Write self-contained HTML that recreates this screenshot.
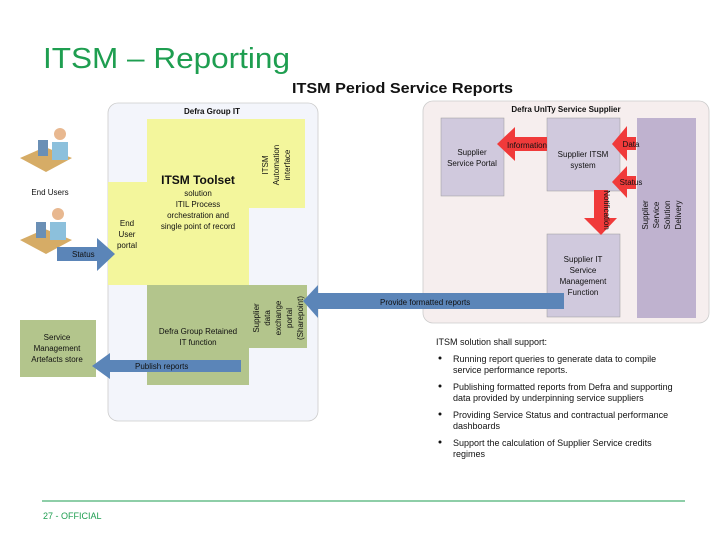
<!DOCTYPE html>
<html><head><meta charset="utf-8"><style>
body{margin:0;background:#fff;}
svg{display:block;font-family:"Liberation Sans",sans-serif;}
</style></head><body>
<svg width="720" height="540" viewBox="0 0 720 540" xmlns="http://www.w3.org/2000/svg">
<text x="43" y="68" font-size="29" fill="#1e9e50" textLength="247" lengthAdjust="spacingAndGlyphs">ITSM – Reporting</text>
<text x="292" y="93" font-size="15" font-weight="bold" fill="#111" textLength="221" lengthAdjust="spacingAndGlyphs">ITSM Period Service Reports</text>

<!-- Defra Group IT container -->
<rect x="108" y="103" width="210" height="318" rx="10" fill="#f3f5fb" stroke="#ccc" stroke-width="0.8"/>
<text x="212" y="114" font-size="8" font-weight="bold" text-anchor="middle" fill="#111">Defra Group IT</text>
<rect x="147" y="119" width="102" height="166" fill="#f3f69c"/>
<rect x="108" y="182" width="39" height="103" fill="#f3f69c"/>
<rect x="249" y="119" width="56" height="89" fill="#f3f69c"/>
<rect x="147" y="285" width="102" height="100" fill="#b3c58c"/>
<rect x="249" y="285" width="58" height="63" fill="#b3c58c"/>
<rect x="20" y="320" width="76" height="57" fill="#b3c58c"/>

<!-- supplier container -->
<rect x="423" y="101" width="286" height="222" rx="10" fill="#f6eeee" stroke="#ccc" stroke-width="0.8"/>
<text x="566" y="112" font-size="8" font-weight="bold" text-anchor="middle" fill="#111">Defra UnITy Service Supplier</text>
<rect x="441" y="118" width="63" height="78" fill="#d0c9dd" stroke="#999" stroke-width="0.5"/>
<rect x="547" y="118" width="73" height="73" fill="#d0c9dd" stroke="#999" stroke-width="0.5"/>
<rect x="547" y="234" width="73" height="83" fill="#d0c9dd" stroke="#999" stroke-width="0.5"/>
<rect x="637" y="118" width="59" height="200" fill="#bfb2cf"/>

<text x="198" y="184" font-size="12" font-weight="bold" text-anchor="middle" fill="#111">ITSM Toolset</text>
<g font-size="8" text-anchor="middle" fill="#111">
<text x="198" y="196">solution</text><text x="198" y="207">ITIL Process</text>
<text x="198" y="218">orchestration and</text><text x="198" y="229">single point of record</text>
<text x="127" y="226">End</text><text x="127" y="237">User</text><text x="127" y="248">portal</text>
<text x="198" y="334">Defra Group Retained</text><text x="198" y="345">IT function</text>
<text transform="translate(268,165) rotate(-90)">ITSM</text>
<text transform="translate(279,165) rotate(-90)">Automation</text>
<text transform="translate(290,165) rotate(-90)">interface</text>
<text transform="translate(259,318) rotate(-90)">Supplier</text>
<text transform="translate(270,318) rotate(-90)">data</text>
<text transform="translate(281,318) rotate(-90)">exchange</text>
<text transform="translate(292,318) rotate(-90)">portal</text>
<text transform="translate(303,318) rotate(-90)">(Sharepoint)</text>
<text x="50" y="195">End Users</text>
<text x="57" y="340">Service</text><text x="57" y="351">Management</text><text x="57" y="362">Artefacts store</text>
</g>
<!-- users -->
<g>
<polygon points="20,158 45,147 72,158 46,172" fill="#d6ac66"/>
<rect x="38" y="140" width="10" height="16" fill="#6a8fb5"/>
<circle cx="60" cy="134" r="6" fill="#e8b890"/>
<path d="M52 142 h16 v18 h-16z" fill="#8cc0dc"/>
<polygon points="20,240 45,229 72,240 46,254" fill="#d6ac66"/>
<rect x="36" y="222" width="10" height="16" fill="#6a8fb5"/>
<circle cx="58" cy="214" r="6" fill="#e8b890"/>
<path d="M50 222 h16 v18 h-16z" fill="#8cc0dc"/>
</g>

<!-- blue arrows -->
<g fill="#5b85b8">
<rect x="57" y="247" width="42" height="14"/><polygon points="97,238 115,254 97,271"/>
<rect x="108" y="360" width="133" height="12"/><polygon points="110,353 92,366 110,379"/>
<rect x="316" y="293" width="248" height="16"/><polygon points="318,285 303,301 318,318"/>
</g>
<g font-size="8" fill="#111">
<text x="72" y="257">Status</text>
<text x="135" y="369">Publish reports</text>
<text x="380" y="305">Provide formatted reports</text>
</g>

<g fill="#f03a3a">
<rect x="513" y="137" width="34" height="14"/><polygon points="515,127 497,144 515,161"/>
<rect x="625" y="137" width="11" height="13"/><polygon points="627,126 612,144 627,161"/>
<rect x="625" y="176" width="11" height="13"/><polygon points="627,166 612,182 627,198"/>
<rect x="594" y="190" width="14" height="30"/><polygon points="584,218 601,235 617,218"/>
</g>
<g font-size="8" text-anchor="middle" fill="#111">
<text x="527" y="148">Information</text>
<text x="631" y="147">Data</text>
<text x="631" y="185">Status</text>
<text transform="translate(604,210) rotate(90)">Notification</text>
<text x="472" y="155">Supplier</text><text x="472" y="166">Service Portal</text>
<text x="583" y="157">Supplier ITSM</text><text x="583" y="168">system</text>
<text x="583" y="262">Supplier IT</text><text x="583" y="273">Service</text>
<text x="583" y="284">Management</text><text x="583" y="295">Function</text>
<text transform="translate(648,215) rotate(-90)">Supplier</text>
<text transform="translate(659,215) rotate(-90)">Service</text>
<text transform="translate(670,215) rotate(-90)">Solution</text>
<text transform="translate(681,215) rotate(-90)">Delivery</text>
</g>

<g font-size="9" fill="#111">
<text x="436" y="345">ITSM solution shall support:</text>
<text x="453" y="362">Running report queries to generate data to compile</text>
<text x="453" y="373">service performance reports.</text>
<text x="453" y="390">Publishing formatted reports from Defra and supporting</text>
<text x="453" y="401">data provided by underpinning service suppliers</text>
<text x="453" y="418">Providing Service Status and contractual performance</text>
<text x="453" y="429">dashboards</text>
<text x="453" y="446">Support the calculation of Supplier Service credits</text>
<text x="453" y="457">regimes</text>
</g>
<g fill="#111"><circle cx="440" cy="358" r="1.5"/><circle cx="440" cy="386" r="1.5"/><circle cx="440" cy="414" r="1.5"/><circle cx="440" cy="442" r="1.5"/></g>

<line x1="42" y1="501" x2="685" y2="501" stroke="#1e9e50" stroke-width="1"/>
<text x="43" y="519" font-size="9" fill="#1e9e50">27 - OFFICIAL</text>
</svg>
</body></html>
